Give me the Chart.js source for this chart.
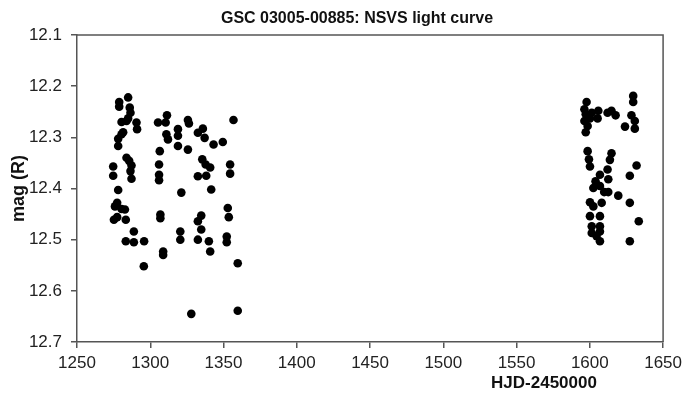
<!DOCTYPE html>
<html>
<head>
<meta charset="utf-8">
<script src="https://cdn.jsdelivr.net/npm/chart.js@4"></script>
<style>
  html, body { margin: 0; padding: 0; background: #fff; }
  #c { display: block; }
</style>
</head>
<body>
<canvas id="c" width="687" height="401"></canvas>
<script>
// first observing season (HJD-2450000)
const hjd1 = [
  1278.8, 1284.9, 1278.8, 1286.0, 1286.5, 1284.9, 1280.4, 1283.8, 1290.6, 1291.0,
  1281.5, 1280.4, 1278.1, 1278.1, 1283.8, 1285.6, 1287.2, 1286.5, 1287.2, 1274.7,
  1274.7, 1278.1, 1275.9, 1277.4, 1280.4, 1282.7, 1275.2, 1277.4, 1283.3, 1288.8,
  1283.3, 1288.8, 1295.8, 1295.6, 1306.5, 1306.0, 1306.0, 1306.0, 1306.9, 1306.9,
  1308.8, 1308.8, 1305.3, 1311.4, 1310.5, 1312.1, 1311.0, 1318.9, 1318.9, 1318.9,
  1325.7, 1326.4, 1325.7, 1332.5, 1335.9, 1337.1, 1343.2, 1349.5, 1356.8, 1335.5,
  1337.8, 1340.9, 1332.5, 1338.2, 1354.5, 1354.5, 1321.2, 1341.6, 1334.8, 1332.5,
  1334.8, 1352.9, 1353.6, 1320.5, 1320.5, 1332.5, 1340.0, 1340.9, 1352.2, 1352.2,
  1359.7, 1328.0, 1359.7
];
const mag1 = [
  12.231, 12.222, 12.240, 12.242, 12.252, 12.263, 12.270, 12.268, 12.271, 12.284,
  12.290, 12.294, 12.303, 12.317, 12.340, 12.346, 12.355, 12.366, 12.381, 12.357,
  12.375, 12.403, 12.435, 12.428, 12.440, 12.441, 12.461, 12.456, 12.461, 12.484,
  12.503, 12.505, 12.503, 12.552, 12.327, 12.353, 12.373, 12.384, 12.451, 12.458,
  12.523, 12.530, 12.271, 12.257, 12.271, 12.304, 12.294, 12.284, 12.297, 12.317,
  12.266, 12.273, 12.324, 12.291, 12.283, 12.301, 12.314, 12.309, 12.266, 12.343,
  12.353, 12.359, 12.376, 12.375, 12.353, 12.371, 12.408, 12.402, 12.453, 12.464,
  12.480, 12.438, 12.456, 12.484, 12.500, 12.500, 12.503, 12.523, 12.494, 12.505,
  12.546, 12.645, 12.639
];

// second observing season
const hjd2 = [
  1597.8, 1596.3, 1597.2, 1596.3, 1598.5, 1597.2, 1601.3, 1600.1, 1605.8, 1605.3,
  1612.1, 1614.8, 1617.6, 1624.0, 1629.6, 1629.6, 1628.4, 1630.7, 1630.7, 1598.5,
  1599.4, 1600.1, 1614.8, 1613.7, 1612.1, 1631.9, 1606.9, 1627.3, 1603.9, 1612.6,
  1602.4, 1606.9, 1609.8, 1612.6, 1619.4, 1600.1, 1602.4, 1608.1, 1627.3, 1600.1,
  1606.9, 1633.4, 1601.3, 1606.9, 1601.3, 1606.9, 1606.9, 1627.3, 1604.6
];
const mag2 = [
  12.231, 12.245, 12.255, 12.268, 12.278, 12.290, 12.252, 12.263, 12.248, 12.263,
  12.252, 12.248, 12.257, 12.279, 12.219, 12.231, 12.257, 12.268, 12.283, 12.327,
  12.343, 12.357, 12.331, 12.344, 12.363, 12.355, 12.373, 12.375, 12.386, 12.382,
  12.399, 12.395, 12.407, 12.407, 12.414, 12.427, 12.435, 12.428, 12.428, 12.454,
  12.454, 12.464, 12.474, 12.474, 12.487, 12.484, 12.503, 12.503, 12.493
];

const magTicks = [12.1, 12.2, 12.3, 12.4, 12.5, 12.6, 12.7];

const points = [];
hjd1.forEach((x, i) => points.push({ x, y: mag1[i] }));
hjd2.forEach((x, i) => points.push({ x, y: mag2[i] }));

const FONT = "'Liberation Sans', Arial, sans-serif";
const AXIS = "#555";

// title, x label and the top/right frame lines
const extras = {
  id: "extras",
  afterDraw(c) {
    const ctx = c.ctx, a = c.chartArea;
    ctx.save();
    ctx.strokeStyle = AXIS;
    ctx.lineWidth = 1.5;
    ctx.beginPath();
    ctx.moveTo(a.left, a.top);
    ctx.lineTo(a.right, a.top);
    ctx.lineTo(a.right, a.bottom);
    ctx.stroke();

    ctx.fillStyle = "#111";
    ctx.textAlign = "center";
    ctx.textBaseline = "middle";
    ctx.font = "bold 16px " + FONT;
    ctx.fillText("GSC 03005-00885: NSVS light curve", 357, 19);
    ctx.font = "bold 17px " + FONT;
    ctx.fillText("HJD-2450000", 544, 383);
    ctx.restore();
  }
};

new Chart(document.getElementById("c"), {
  type: "scatter",
  data: {
    datasets: [{
      data: points,
      pointRadius: 4.3,
      pointHoverRadius: 4.3,
      pointBackgroundColor: "#000",
      pointBorderWidth: 0
    }]
  },
  options: {
    responsive: false,
    animation: false,
    devicePixelRatio: 1,
    layout: { padding: { top: 35, right: 22, left: 0, bottom: 0 } },
    plugins: { legend: { display: false }, tooltip: { enabled: false } },
    scales: {
      x: {
        type: "linear",
        min: 1250,
        max: 1650,
        ticks: {
          stepSize: 50, color: "#222", font: { size: 17, family: FONT }, padding: 5, maxRotation: 0,
          callback: v => String(v)
        },
        grid: { drawOnChartArea: false, tickLength: 6, color: AXIS, lineWidth: 1.5 },
        border: { color: AXIS, width: 1.5 },
        afterFit(s) { s.height = 59; }
      },
      y: {
        type: "linear",
        reverse: true,
        min: 12.1,
        max: 12.7,
        afterBuildTicks(s) { s.ticks = magTicks.map(v => ({ value: v })); },
        ticks: {
          color: "#222",
          font: { size: 17, family: FONT },
          padding: 9,
          callback: v => Number(v).toFixed(1)
        },
        grid: { drawOnChartArea: false, tickLength: 6, color: AXIS, lineWidth: 1.5 },
        border: { color: AXIS, width: 1.5 },
        title: {
          display: true, text: "mag (R)", color: "#111",
          font: { size: 18, weight: "bold", family: FONT }, padding: { top: 8, bottom: 0 }
        },
        afterFit(s) { s.width = 77; }
      }
    }
  },
  plugins: [extras]
});
</script>
</body>
</html>
